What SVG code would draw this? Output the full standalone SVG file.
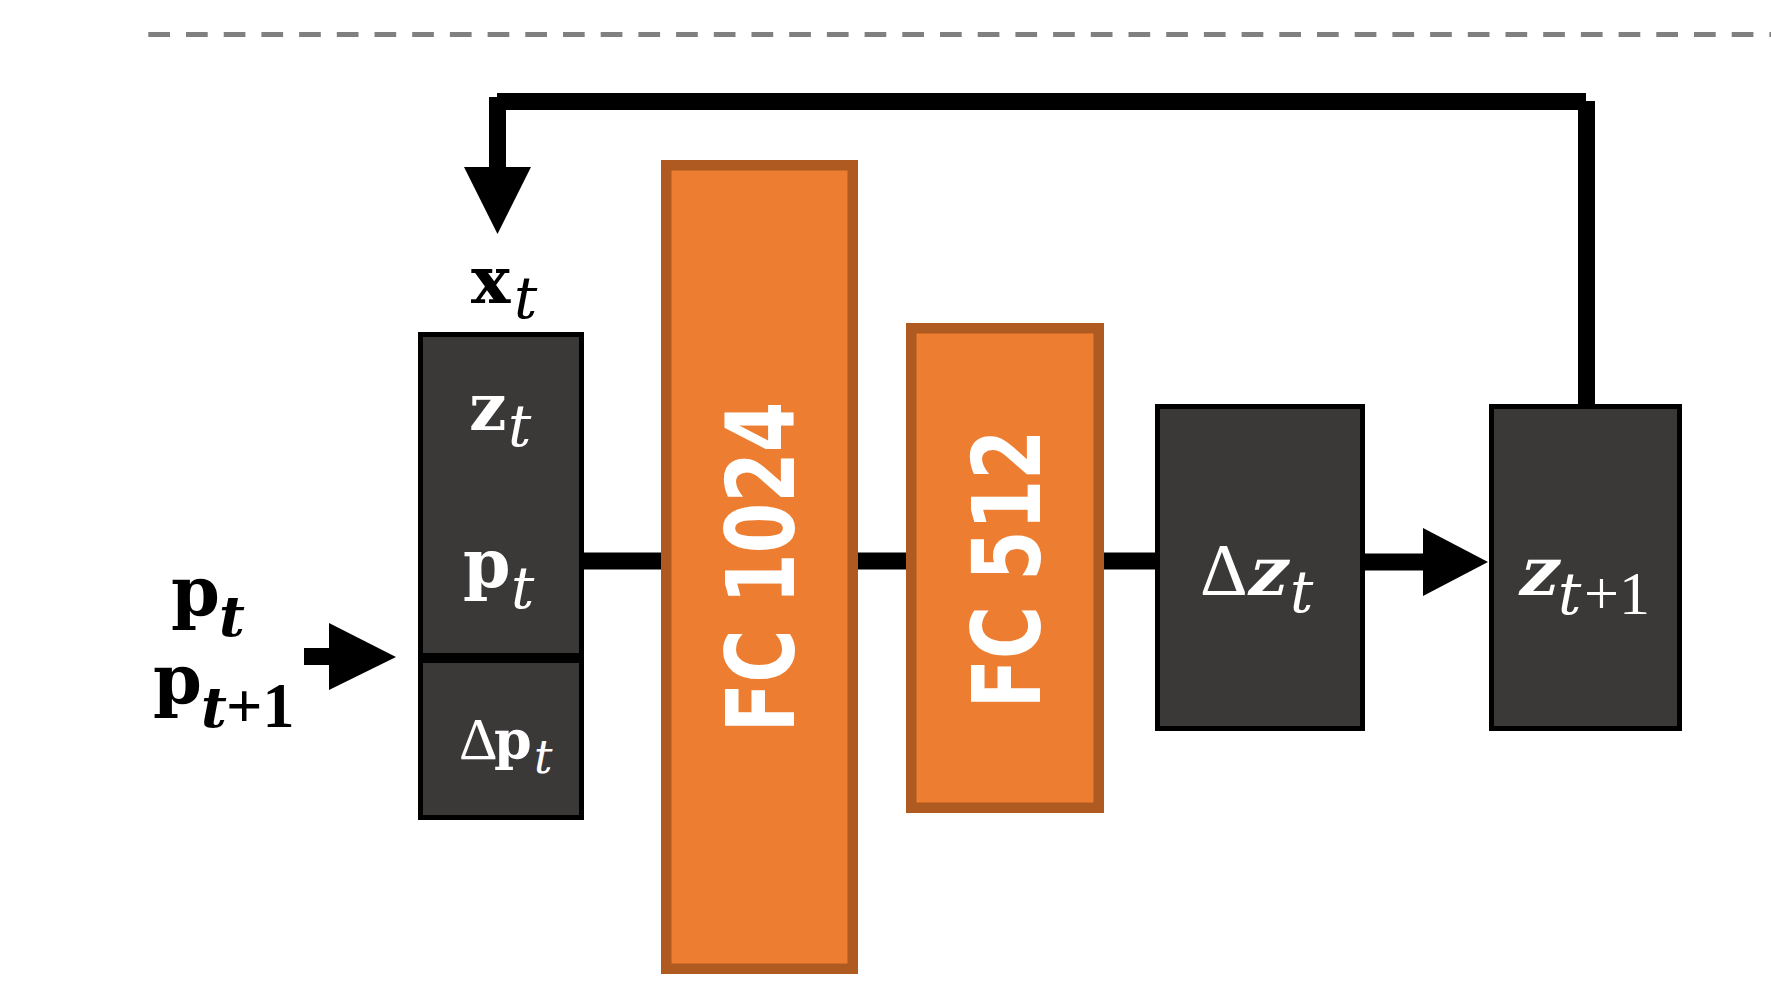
<svg xmlns="http://www.w3.org/2000/svg" width="1771" height="1000" viewBox="0 0 1771 1000">
<style>
.dark{fill:#3B3838;stroke:#000;stroke-width:5}
.fc{fill:#ED7D31;stroke:#AE5A21;stroke-width:10.5}
.conn{stroke:#000;stroke-width:17;fill:none;stroke-linecap:butt}
.head{fill:#000}
.fct{font-family:"DejaVu Sans",sans-serif;font-weight:bold;fill:#fff;font-size:94px;text-anchor:middle}
.m{font-family:"DejaVu Serif",serif}
.b{font-weight:bold}
.i{font-style:italic}
.n{font-family:"Liberation Serif",serif}
.w{fill:#fff}
.k{fill:#000}
</style>
<line x1="148.3" y1="34.5" x2="1771" y2="34.5" stroke="#808080" stroke-width="5" stroke-dasharray="21.7 16"/>
<g id="connectors">
<line class="conn" x1="497" y1="101.5" x2="1586" y2="101.5"/>
<line class="conn" x1="1586.5" y1="101" x2="1586.5" y2="404"/>
<line class="conn" x1="497.5" y1="97" x2="497.5" y2="168"/>
<polygon class="head" points="464,167 531,167 497.5,234"/>
<line class="conn" x1="304" y1="656.5" x2="330" y2="656.5"/>
<polygon class="head" points="329,623 396,657 329,690"/>
<line class="conn" x1="584" y1="561" x2="661" y2="561"/>
<line class="conn" x1="858" y1="561" x2="906" y2="561"/>
<line class="conn" x1="1104" y1="561" x2="1155" y2="561"/>
<line class="conn" x1="1365" y1="562" x2="1424" y2="562"/>
<polygon class="head" points="1423,528 1488,562 1423,596"/>
</g>
<g id="x-label">
<text class="m k b" x="471" y="303" font-size="66">x</text>
<text class="m k i" x="514" y="318" font-size="58">t</text>
</g>
<g id="input-box">
<rect class="dark" x="420.5" y="334.5" width="161" height="321"/>
<rect class="dark" x="420.5" y="660.5" width="161" height="157"/>
<text class="m w b" x="469" y="430" font-size="66">z</text>
<text class="m w i" x="508" y="446" font-size="58">t</text>
<text class="m w b" x="463" y="587" font-size="68">p</text>
<text class="m w i" x="511" y="608" font-size="58">t</text>
<text class="n w" x="459" y="759" font-size="60">Δ</text>
<text class="m w b" x="494" y="759" font-size="54">p</text>
<text class="m w i" x="534" y="773" font-size="46">t</text>
</g>
<g id="p-inputs">
<text class="m k b" x="171" y="616" font-size="70">p</text>
<text class="m k b i" x="219" y="636" font-size="56">t</text>
<text class="m k b" x="153" y="704" font-size="70">p</text>
<text class="m k b i" x="201" y="727" font-size="56">t</text>
<text class="n k b" x="226" y="727" font-size="64">+1</text>
</g>
<g id="fc1024">
<rect class="fc" x="666.25" y="165.25" width="186.5" height="803.5"/>
<text class="fct" transform="translate(760,567) rotate(-90)" x="0" y="34" textLength="331" lengthAdjust="spacingAndGlyphs">FC 1024</text>
</g>
<g id="fc512">
<rect class="fc" x="911.25" y="328.25" width="187.5" height="479.5"/>
<text class="fct" transform="translate(1006,569) rotate(-90)" x="0" y="34" textLength="279" lengthAdjust="spacingAndGlyphs">FC 512</text>
</g>
<g id="delta-z">
<rect class="dark" x="1157.5" y="406.5" width="205" height="322"/>
<text class="n w" x="1200" y="595" font-size="74">Δ</text>
<text class="m w b" transform="translate(1245,595) skewX(-14)" font-size="68">z</text>
<text class="m w i" x="1290" y="612" font-size="58">t</text>
</g>
<g id="z-next">
<rect class="dark" x="1491.5" y="406.5" width="188" height="322"/>
<text class="m w b" transform="translate(1516,595) skewX(-14)" font-size="68">z</text>
<text class="m w i" x="1558" y="614" font-size="58">t</text>
<text class="n w" x="1584" y="614" font-size="62">+1</text>
</g>
</svg>
